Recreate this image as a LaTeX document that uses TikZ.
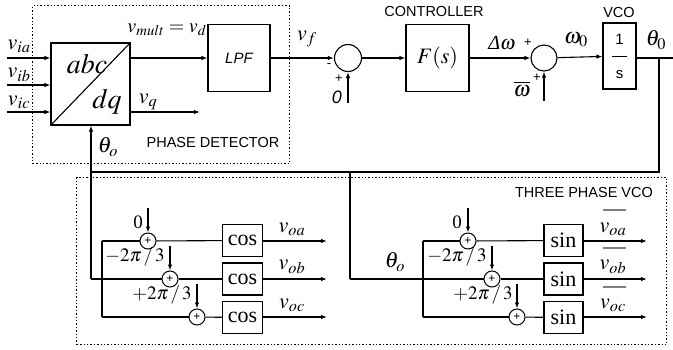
\documentclass[tikz,border=0pt]{standalone}
\usepackage{mathptmx}
\usepackage{fontspec}
\setmainfont{Liberation Serif}
\setsansfont{Liberation Sans}
\usetikzlibrary{arrows.meta}
\tikzset{
  ln/.style={line width=1.1pt},
  arr/.style={ln,-{Latex[length=6pt,width=4.5pt]}},
  blk/.style={draw,ln,rectangle,inner sep=0pt},
  dotbox/.style={draw,dotted,line width=1.4pt},
  bigsum/.style={draw,ln,circle,minimum size=27pt,inner sep=0pt},
  smsum/.style={draw,line width=1pt,circle,minimum size=16pt,inner sep=0pt,font=\sffamily\fontsize{12}{12}\selectfont},
  lbl/.style={inner sep=0pt,font=\fontsize{22}{24}\selectfont},
  big/.style={inner sep=0pt,font=\fontsize{28}{32}\selectfont},
  sans/.style={inner sep=0pt,font=\sffamily\fontsize{14.5}{16}\selectfont},
  sgn/.style={inner sep=0pt,font=\sffamily\fontsize{13}{13}\selectfont},
  trig/.style={blk,minimum width=40pt,minimum height=32pt,font=\fontsize{22}{24}\selectfont},
  ph/.style={inner sep=0pt,font=\fontsize{19}{22}\selectfont},
}
\begin{document}
\begin{tikzpicture}[x=1pt,y=-1pt]
\useasboundingbox (0,0) rectangle (673,349);
% dotted boxes
\node[dotbox,minimum width=257pt,minimum height=158pt,anchor=north west] (pd) at (32,5) {};
\node[dotbox,minimum width=590pt,minimum height=167pt,anchor=north west] (tp) at (76,177) {};
\node[sans] (pdl) at (213,143) {PHASE DETECTOR};
\node[sans] (tpl) at (584,193) {THREE PHASE VCO};
% upper blocks
\node[blk,minimum width=79pt,minimum height=82pt] (abc) at (90.5,84) {};
\draw[ln] (abc.south west) -- (abc.north east);
\node[big] (abct) at (87,64) {$abc$};
\node[big] (dqt) at (107,102) {$dq$};
\node[blk,minimum width=62pt,minimum height=67pt,font=\sffamily\itshape\fontsize{15}{18}\selectfont] (lpf) at (239,58) {LPF};
\node[bigsum] (s1) at (348,58) {};
\node[blk,minimum width=63pt,minimum height=67pt,font=\fontsize{22}{24}\selectfont] (fs) at (437.5,58) {$F(s)$};
\node[bigsum,minimum size=26pt] (s2) at (544,58) {};
\node[blk,minimum width=33pt,minimum height=66pt,align=center,font=\sffamily\fontsize{15}{17}\selectfont] (vco) at (619.5,56) {1\\\rule[4pt]{15pt}{0.8pt}\\s};
% inputs
\coordinate (ia) at (7,58);
\coordinate (ib) at (7,85);
\coordinate (ic) at (7,112);
\draw[arr] (ia) -- (abc.west|-ia);
\draw[arr] (ib) -- (abc.west|-ib);
\draw[arr] (ic) -- (abc.west|-ic);
\node[lbl] (via) at (19,46) {$v_{ia}$};
\node[lbl] (vib) at (19,75) {$v_{ib}$};
\node[lbl] (vic) at (19,102) {$v_{ic}$};
% main path
\draw[arr] (abc.east|-ia) -- (lpf.west|-ia);
\node[lbl,font=\fontsize{20}{24}\selectfont] (vm) at (167,30) {$v_{mult}=v_d$};
\coordinate (vqe) at (200,112);
\draw[arr] (abc.east|-vqe) -- (vqe);
\node[lbl] (vq) at (148,102) {$v_q$};
\draw[arr] (lpf) -- (s1);
\node[lbl] (vf) at (307,39) {$v_f$};
\node[sgn] (m1) at (329,66) {-};
\node[sgn] (p1) at (339,79) {+};
\node[sans,font=\sffamily\itshape\fontsize{18}{20}\selectfont] (z1) at (337,97) {0};
\coordinate (z1a) at (348,103);
\draw[arr] (z1a) -- (s1.south);
\draw[arr] (s1) -- (fs);
\node[sans] (ctl) at (434,12) {CONTROLLER};
\draw[arr] (fs) -- (s2);
\node[lbl,font=\fontsize{20}{24}\selectfont] (dw) at (502,43) {{\itshape Δ}$\omega$};
\node[sgn] (p2) at (528,43) {+};
\node[sgn] (p3) at (537,78) {+};
\node[lbl] (wb) at (522,89) {$\overline{\omega}$};
\coordinate (wba) at (544,101);
\draw[arr] (wba) -- (s2.south);
\draw[arr] (s2) -- (vco);
\node[lbl] (w0) at (576,40) {$\omega_0$};
\node[sans] (vcol) at (619,13) {VCO};
\node[lbl] (th0) at (656,40) {$\theta_0$};
\coordinate (out) at (673,58);
\draw[ln] (vco.east|-out) -- (out);
% feedback
\coordinate (fR) at (659,58);
\coordinate (fRb) at (659,172);
\coordinate (fL) at (91,172);
\coordinate (fM) at (350,172);
\coordinate (cb) at (91,279);
\coordinate (sb) at (350,279);
\draw[ln] (fR) -- (fRb) -- (fL);
\draw[arr] (cb) -- (cb|-abc.south);
\draw[ln] (fM) -- (sb);
\node[lbl] (tho) at (108,147) {$\theta_o$};
\node[lbl] (tho2) at (395,262) {$\theta_o$};
% cos branch
\node[smsum] (ca) at (148,241) {+};
\node[smsum] (cbs) at (170,279) {+};
\node[smsum] (cc) at (197,317) {+};
\node[trig] (cosa) at (242.5,240.5) {cos};
\node[trig] (cosb) at (242.5,279) {cos};
\node[trig] (cosc) at (242.5,317.5) {cos};
\coordinate (lA) at (102,241);
\coordinate (lC) at (102,317);
\draw[ln] (lA) -- (lC);
\draw[ln] (lA) -- (ca);
\draw[ln] (lC) -- (cc);
\draw[ln] (cb) -- (cbs);
\draw[ln] (ca) -- (cosa);
\draw[ln] (cbs) -- (cosb);
\draw[ln] (cc) -- (cosc);
\coordinate (cat) at (148,208);
\coordinate (cbt) at (170,246);
\coordinate (cct) at (197,284);
\draw[arr] (cat) -- (ca.north);
\draw[arr] (cbt) -- (cbs.north);
\draw[arr] (cct) -- (cc.north);
\node[ph] (c0) at (138,222) {0};
\node[ph] (c1) at (135,257) {$-2\pi\,/\,3$};
\node[ph] (c2) at (162,295) {$+2\pi\,/\,3$};
\coordinate (oa) at (327,241);
\coordinate (ob) at (327,279);
\coordinate (oc) at (327,317);
\draw[arr] (cosa.east|-oa) -- (oa);
\draw[arr] (cosb.east|-ob) -- (ob);
\draw[arr] (cosc.east|-oc) -- (oc);
\node[lbl] (voa) at (292,229) {$v_{oa}$};
\node[lbl] (vob) at (292,267) {$v_{ob}$};
\node[lbl] (voc) at (292,305) {$v_{oc}$};
% sin branch
\node[smsum] (sa) at (468,241) {+};
\node[smsum] (sbs) at (492,279) {+};
\node[smsum] (sc) at (517,317) {+};
\node[trig,minimum width=39pt] (sina) at (563.5,240.5) {sin};
\node[trig,minimum width=39pt] (sinb) at (563.5,279) {sin};
\node[trig,minimum width=39pt] (sinc) at (563.5,317.5) {sin};
\coordinate (rA) at (423,241);
\coordinate (rC) at (423,317);
\draw[ln] (rA) -- (rC);
\draw[ln] (rA) -- (sa);
\draw[ln] (rC) -- (sc);
\draw[ln] (sb) -- (sbs);
\draw[ln] (sa) -- (sina);
\draw[ln] (sbs) -- (sinb);
\draw[ln] (sc) -- (sinc);
\coordinate (sat) at (468,208);
\coordinate (sbt) at (492,246);
\coordinate (sct) at (517,284);
\draw[arr] (sat) -- (sa.north);
\draw[arr] (sbt) -- (sbs.north);
\draw[arr] (sct) -- (sc.north);
\node[ph] (s0) at (457,222) {0};
\node[ph] (s1l) at (457,257) {$-2\pi\,/\,3$};
\node[ph] (s2l) at (483,295) {$+2\pi\,/\,3$};
\coordinate (qa) at (647,241);
\coordinate (qb) at (647,279);
\coordinate (qc) at (647,317);
\draw[arr] (sina.east|-qa) -- (qa);
\draw[arr] (sinb.east|-qb) -- (qb);
\draw[arr] (sinc.east|-qc) -- (qc);
\node[lbl] (woa) at (613,229) {$v_{oa}$};
\node[lbl] (wob) at (613,267) {$v_{ob}$};
\node[lbl] (woc) at (613,305) {$v_{oc}$};
\draw[gray,line width=1.2pt] (603,210) -- (626,210);
\draw[gray,line width=1.2pt] (603,248) -- (626,248);
\draw[gray,line width=1.2pt] (603,287) -- (626,287);
\end{tikzpicture}
\end{document}
